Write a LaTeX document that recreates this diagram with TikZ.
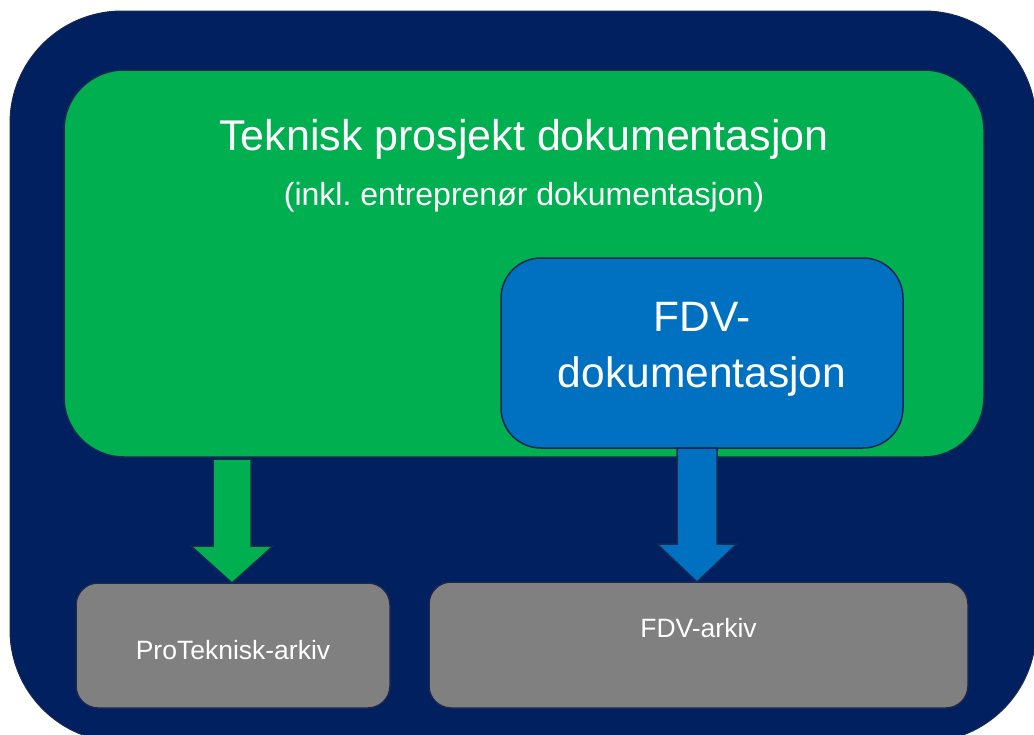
\documentclass[tikz,border=0pt]{standalone}
\usepackage{fontspec}
\setmainfont{Liberation Sans}
\usetikzlibrary{calc}
\frenchspacing
\definecolor{navy}{HTML}{002060}
\definecolor{edge}{HTML}{1A2850}
\definecolor{grn}{HTML}{00B050}
\definecolor{blu}{HTML}{0070C0}
\definecolor{gry}{HTML}{808080}
\tikzset{
  panel/.style={draw=edge, line width=1.5pt, inner sep=0pt, outer sep=0pt},
  lbl/.style={text=white, inner sep=0pt, anchor=base},
  arrowshape/.style={draw=edge, line width=1.5pt, line join=miter},
}
\begin{document}
\begin{tikzpicture}[x=1pt,y=-1pt]
\useasboundingbox (0,0) rectangle (1034,734);
\clip (0,0) rectangle (1034,734);
% outer frame
\node[panel, line width=1pt, fill=navy, rounded corners=112pt, minimum width=1026pt, minimum height=731pt] (outer) at (523,376.5) {};
% green box
\node[panel, fill=grn, rounded corners=60pt, minimum width=920pt, minimum height=387pt] (green) at (524,263.5) {};
\node[lbl, font=\fontsize{43}{50}\selectfont] (ttl) at (524,150) {Teknisk prosjekt dokumentasjon};
\node[lbl, font=\fontsize{32}{38}\selectfont] (sub) at (524,205) {(inkl. entreprenør dokumentasjon)};
% blue box
\node[panel, fill=blu, rounded corners=40pt, minimum width=402pt, minimum height=190pt] (fdv) at (702,353) {};
\node[lbl, font=\fontsize{42.5}{50}\selectfont] (fdv1) at (702,331) {FDV-};
\node[lbl, font=\fontsize{42.5}{50}\selectfont] (fdv2) at (702,387) {dokumentasjon};
% gray boxes
\node[panel, fill=gry, rounded corners=22pt, minimum width=314pt, minimum height=125pt] (pro) at (233,645.5) {};
\node[lbl, font=\fontsize{26.5}{32}\selectfont] (prot) at (233,659) {ProTeknisk-arkiv};
\node[panel, fill=gry, rounded corners=22pt, minimum width=539pt, minimum height=126pt] (fdva) at (698.5,645) {};
\node[lbl, font=\fontsize{26.5}{32}\selectfont] (fdvat) at (698.5,637) {FDV-arkiv};
% arrows
\coordinate (gtop) at (green.south -| 232,0);
\coordinate (gtip) at (pro.north -| 232,0);
\draw[arrowshape, fill=grn] ($(gtop)+(-19,2)$) -- ($(gtip)+(-19,-37)$) -- ($(gtip)+(-41,-37)$) -- (gtip)
  -- ($(gtip)+(41,-37)$) -- ($(gtip)+(19,-37)$) -- ($(gtop)+(19,2)$) -- cycle;
\coordinate (btop) at (fdv.south -| 697,0);
\coordinate (btip) at (fdva.north -| 697,0);
\draw[arrowshape, fill=blu] ($(btop)+(-20,0)$) -- ($(btip)+(-20,-38)$) -- ($(btip)+(-40,-38)$) -- (btip)
  -- ($(btip)+(40,-38)$) -- ($(btip)+(20,-38)$) -- ($(btop)+(20,0)$) -- cycle;
\end{tikzpicture}
\end{document}
